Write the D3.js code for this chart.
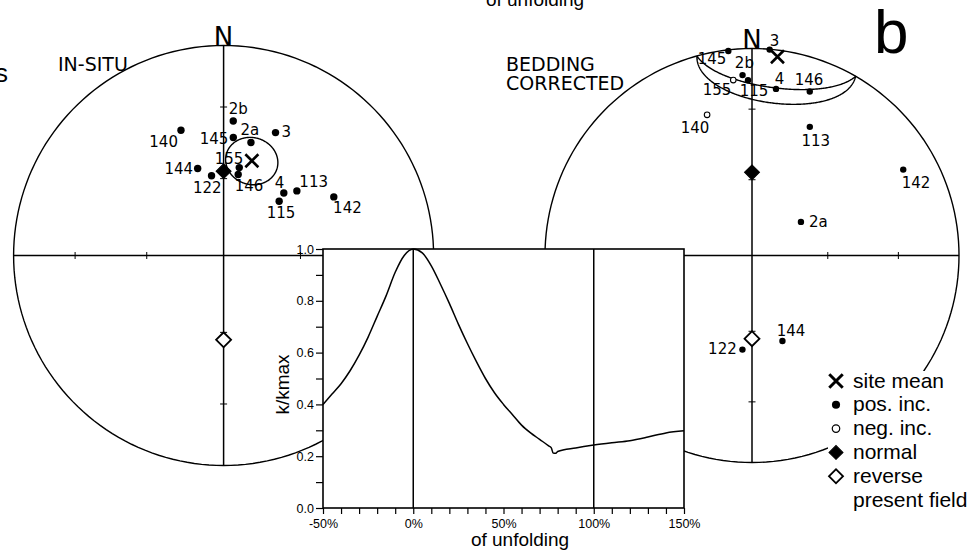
<!DOCTYPE html>
<html>
<head>
<meta charset="utf-8">
<script src="https://cdn.jsdelivr.net/npm/d3@7"></script>
<style>
  html, body { margin: 0; padding: 0; background: #fff; }
  svg { display: block; }
</style>
</head>
<body>
<div id="chart"></div>
<script>
// site names, same order for both nets
const sites = ["2b", "140", "145", "2a", "3", "155", "146", "144", "122", "4", "115", "113", "142"];

// in-situ directions (deg)
const decInSitu = [4.1, 341.2, 4.7, 13.6, 22.9, 10.1, 10.2, 343.4, 351.4, 43.9, 45.7, 48.6, 62.0];
const incInSitu = [36.0, 37.1, 43.0, 43.9, 36.6, 55.0, 57.8, 54.4, 58.5, 56.0, 59.7, 51.6, 40.3];

// bedding corrected directions (negative inc = upper hemisphere)
const decTilt = [357.0, 342.3, 353.4, 55.5, 4.9, 353.9, 19.4, 160.4, 185.8, 8.2, 358.7, 24.2, 60.4];
const incTilt = [13.8, -29.4, 0.6, 66.6, 0.2, -15.9, 17.1, 53.9, 52.3, 19.8, 16.4, 32.4, 17.1];

// site means [dec, inc, a95]
const meanInSitu = [16.6, 51.1, 9.6];
const meanTilt = [7.3, 3.6, 23];

// present field, normal and reverse [dec, inc]
const fieldNormal = [0, 57];
const fieldReverse = [180, -57];

// fold test: k/kmax against % of unfolding
const unfold = [-50, -45, -40, -35, -30, -25, -20, -15, -10, -5, 0, 5, 10, 15, 20, 25, 30, 35, 40, 45, 50,
                55, 60, 65, 70, 75, 76.5, 77.5, 79, 80, 90, 100, 110, 120, 130, 140, 150];
const kRatio = [0.40, 0.44, 0.48, 0.53, 0.59, 0.66, 0.74, 0.82, 0.91, 0.975, 1.0, 0.985, 0.935, 0.865, 0.79,
                0.71, 0.635, 0.565, 0.50, 0.445, 0.40, 0.36, 0.32, 0.29, 0.265, 0.24, 0.232, 0.212, 0.211,
                0.218, 0.232, 0.243, 0.252, 0.26, 0.274, 0.29, 0.298];
const yTicks = [0, 0.1, 0.2, 0.3, 0.4, 0.5, 0.6, 0.7, 0.8, 0.9, 1.0];
const xTicks = [-50, -40, -30, -20, -10, 0, 10, 20, 30, 40, 50, 60, 70, 80, 90, 100, 110, 120, 130, 140, 150];

const legendLabels = ["site mean", "pos. inc.", "neg. inc.", "normal", "reverse", "present field"];

// label placement (dx, dy from the dot, anchor)
const labelsLeft = {
  "2b": [-4.5, -7, "start"], "140": [-3, 17, "end"], "145": [-5, 6.5, "end"], "2a": [-10.5, -7, "start"],
  "3": [6, 4, "start"], "155": [-24.5, -3.5, "start"], "146": [-3.5, 17, "start"], "144": [-4.5, 6, "end"],
  "122": [-18.5, 17, "start"], "4": [-9, -5, "start"], "115": [-12.5, 17, "start"], "113": [2.5, -3.5, "start"],
  "142": [-0.7, 16, "start"]
};
const labelsRight = {
  "2b": [-7.7, -7, "start"], "140": [-26.3, 18.5, "start"], "145": [-30.7, 13, "start"], "2a": [8, 5.5, "start"],
  "3": [0, -4, "start"], "155": [-30.6, 14.8, "start"], "146": [-15, -6.5, "start"], "144": [-5.7, -5.2, "start"],
  "122": [-5.7, 4.5, "end"], "4": [-1.3, -5, "start"], "115": [-8.3, 15.5, "start"], "113": [-8.3, 18.8, "start"],
  "142": [-1.6, 18.9, "start"]
};

const W = 978, H = 552;
const svg = d3.select("#chart").append("svg")
  .attr("width", W).attr("height", H)
  .style("background", "#fff");

const numFont = "DejaVu Sans";
const symTimes = d3.symbolTimes || d3.symbolCross;

function drawNet(cx, cy, R, decs, incs, mean, labelPos, dotR) {
  const g = svg.append("g");
  const proj = d3.geoAzimuthalEqualArea()
    .rotate([0, -90])
    .scale(R / Math.SQRT2)
    .translate([cx, cy])
    .clipAngle(90.001);
  const path = d3.geoPath(proj);
  // dec clockwise from north, lower hemisphere plotted by |inc|
  const P = (dec, inc) => proj([180 - dec, Math.abs(inc)]);

  g.append("path")
    .attr("d", path({type: "Sphere"}))
    .attr("fill", "none").attr("stroke", "#000").attr("stroke-width", 1.4);

  // N-S and E-W diameters
  [[0, 180], [90, 270]].forEach(([a, b]) => {
    const p1 = P(a, 0), p2 = P(b, 0);
    g.append("line")
      .attr("x1", p1[0]).attr("y1", p1[1]).attr("x2", p2[0]).attr("y2", p2[1])
      .attr("stroke", "#000").attr("stroke-width", 1.5);
  });
  // ticks at 30 and 60 deg inclination
  [0, 90, 180, 270].forEach(dec => {
    [30, 60].forEach(inc => {
      const p = P(dec, inc);
      const vert = dec === 90 || dec === 270;
      g.append("line")
        .attr("x1", vert ? p[0] : p[0] - 3.5).attr("x2", vert ? p[0] : p[0] + 3.5)
        .attr("y1", vert ? p[1] - 3.5 : p[1]).attr("y2", vert ? p[1] + 3.5 : p[1])
        .attr("stroke", "#000").attr("stroke-width", 1);
    });
  });

  g.append("text")
    .attr("x", P(0, 0)[0]).attr("y", P(0, 0)[1] + 0.5)
    .attr("text-anchor", "middle")
    .attr("font-family", numFont).attr("font-size", 26)
    .text("N");

  // a95 cone, upper-hemisphere part folded back into the lower one
  const ring = d3.geoCircle()
    .center([180 - mean[0], mean[1]])
    .radius(mean[2])
    .precision(1)().coordinates[0];
  g.append("path")
    .attr("d", d3.line()(ring.map(([l, p]) => proj([l, Math.abs(p)]))) + "Z")
    .attr("fill", "none").attr("stroke", "#000").attr("stroke-width", 1.4);

  // present field
  [fieldNormal, fieldReverse].forEach(f => {
    const p = P(f[0], f[1]);
    g.append("path")
      .attr("d", d3.symbol(d3.symbolSquare, 112)())
      .attr("transform", `translate(${p[0]},${p[1]}) rotate(45)`)
      .attr("fill", f[1] >= 0 ? "#000" : "#fff")
      .attr("stroke", "#000").attr("stroke-width", f[1] >= 0 ? 1 : 1.8);
  });

  sites.forEach((s, i) => {
    const p = P(decs[i], incs[i]);
    const pos = incs[i] >= 0;
    g.append("circle")
      .attr("cx", p[0]).attr("cy", p[1])
      .attr("r", pos ? dotR : dotR - 0.4)
      .attr("fill", pos ? "#000" : "#fff")
      .attr("stroke", "#000").attr("stroke-width", pos ? 0 : 1.1);
    const lp = labelPos[s];
    g.append("text")
      .attr("x", p[0] + lp[0]).attr("y", p[1] + lp[1])
      .attr("text-anchor", lp[2])
      .attr("font-family", numFont).attr("font-size", 15)
      .text(s);
  });

  const m = P(mean[0], mean[1]);
  g.append("path")
    .attr("d", d3.symbol(symTimes, 112)())
    .attr("transform", `translate(${m[0]},${m[1]})`)
    .attr("fill", "none").attr("stroke", "#000").attr("stroke-width", 2.6);
}

drawNet(223.6, 255.5, 210, decInSitu, incInSitu, meanInSitu, labelsLeft, 3.7);
drawNet(752, 255.5, 207, decTilt, incTilt, meanTilt, labelsRight, 3.2);

// titles
svg.append("text").attr("x", 58).attr("y", 70.7)
  .attr("font-family", numFont).attr("font-size", 19).text("IN-SITU");
svg.append("text").attr("x", 506).attr("y", 70.7)
  .attr("font-family", numFont).attr("font-size", 19).text("BEDDING");
svg.append("text").attr("x", 506).attr("y", 90)
  .attr("font-family", numFont).attr("font-size", 19).text("CORRECTED");
svg.append("text").attr("x", 874).attr("y", 53)
  .attr("font-family", "Liberation Sans, Arial, sans-serif").attr("font-size", 62).text("b");
svg.append("text").attr("x", -5).attr("y", 82)
  .attr("font-family", "Liberation Sans, Arial, sans-serif").attr("font-size", 26).text("s");
svg.append("text").attr("x", 535).attr("y", 6).attr("text-anchor", "middle")
  .attr("font-family", "Liberation Sans, Arial, sans-serif").attr("font-size", 19).text("of unfolding");

// ---- fold test inset ----
const x = d3.scaleLinear().domain([-50, 150]).range([323, 684]);
const y = d3.scaleLinear().domain([0, 1]).range([508, 249]);
const inset = svg.append("g");

inset.append("rect")
  .attr("x", x(-50)).attr("y", y(1))
  .attr("width", x(150) - x(-50)).attr("height", y(0) - y(1))
  .attr("fill", "#fff").attr("stroke", "#000").attr("stroke-width", 1.6);

const yAxis = inset.append("g")
  .attr("transform", `translate(${x(-50)},0)`)
  .call(d3.axisLeft(y).tickValues(yTicks).tickSize(7).tickPadding(2)
    .tickFormat(d => Math.round(d * 10) % 2 === 0 ? d3.format(".1f")(d) : ""));
const xAxis = inset.append("g")
  .attr("transform", `translate(0,${y(0)})`)
  .call(d3.axisBottom(x).tickValues(xTicks).tickSize(6).tickPadding(5)
    .tickFormat(d => d % 50 === 0 ? d + "%" : ""));
[yAxis, xAxis].forEach(a => {
  a.select(".domain").remove();
  a.selectAll("line").attr("stroke-width", 1.2);
  a.selectAll("text").attr("font-family", "Liberation Sans, Arial, sans-serif").attr("font-size", 12.5);
});

[0, 100].forEach(v => {
  inset.append("line")
    .attr("x1", x(v)).attr("x2", x(v)).attr("y1", y(0)).attr("y2", y(1))
    .attr("stroke", "#000").attr("stroke-width", 1.5);
});

inset.append("path")
  .datum(unfold.map((u, i) => [u, kRatio[i]]))
  .attr("d", d3.line().x(d => x(d[0])).y(d => y(d[1])).curve(d3.curveMonotoneX))
  .attr("fill", "none").attr("stroke", "#000").attr("stroke-width", 1.5);

inset.append("text")
  .attr("transform", `translate(289,${(y(0) + y(1)) / 2 + 6}) rotate(-90)`)
  .attr("text-anchor", "middle")
  .attr("font-family", "Liberation Sans, Arial, sans-serif").attr("font-size", 19)
  .text("k/kmax");
inset.append("text")
  .attr("x", 520).attr("y", 546).attr("text-anchor", "middle")
  .attr("font-family", "Liberation Sans, Arial, sans-serif").attr("font-size", 19)
  .text("of unfolding");

// ---- legend ----
const leg = svg.append("g");
leg.append("rect").attr("x", 828).attr("y", 371).attr("width", 150).attr("height", 181).attr("fill", "#fff");
const legSym = [
  {type: symTimes, size: 120, fill: "none", sw: 3},
  {type: d3.symbolCircle, size: 52, fill: "#000", sw: 0},
  {type: d3.symbolCircle, size: 44, fill: "#fff", sw: 1.2},
  {type: d3.symbolSquare, size: 98, fill: "#000", sw: 1, rot: 45},
  {type: d3.symbolSquare, size: 98, fill: "#fff", sw: 1.8, rot: 45},
  null
];
legendLabels.forEach((t, i) => {
  const yy = 381 + i * 23.8;
  const s = legSym[i];
  if (s) {
    leg.append("path")
      .attr("d", d3.symbol(s.type, s.size)())
      .attr("transform", `translate(836,${yy}) rotate(${s.rot || 0})`)
      .attr("fill", s.fill).attr("stroke", "#000").attr("stroke-width", s.sw);
  }
  leg.append("text")
    .attr("x", 853).attr("y", yy + 6.5)
    .attr("font-family", "Liberation Sans, Arial, sans-serif").attr("font-size", 21)
    .text(t);
});
</script>
</body>
</html>
